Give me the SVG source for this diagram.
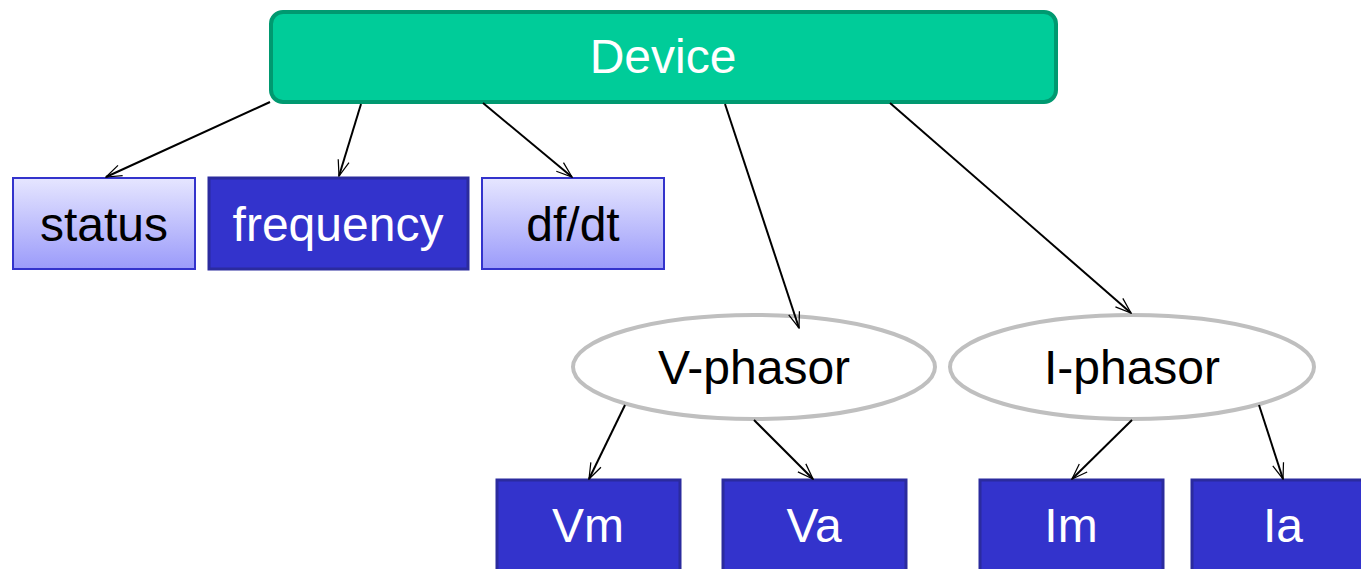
<svg xmlns="http://www.w3.org/2000/svg" width="1361" height="569" viewBox="0 0 1361 569">
<style>
text{font-family:"Liberation Sans",Arial,sans-serif;font-size:48px;text-anchor:middle}
.light{fill:url(#lg);stroke:#3333CC;stroke-width:2}
.dark{fill:#3333CC;stroke:#2B2B9E;stroke-width:3}
.ell{fill:#FFFFFF;stroke:#BFBFBF;stroke-width:4}
.w{fill:#FFFFFF}
.b{fill:#000000}
.c{stroke:#000;stroke-width:2;fill:none;marker-end:url(#ah)}
</style>
<defs>
<linearGradient id="lg" x1="0" y1="0" x2="0" y2="1">
<stop offset="0" stop-color="#E6E6FF"/>
<stop offset="1" stop-color="#9B9BFA"/>
</linearGradient>
<marker id="ah" viewBox="0 0 16 12" refX="15" refY="6" markerWidth="9" markerHeight="6.75" orient="auto" markerUnits="strokeWidth">
<path d="M1,1 L15,6 L1,11" fill="none" stroke="#000" stroke-width="1.1"/>
</marker>
</defs>
<rect width="1361" height="569" fill="#FFFFFF"/>
<g id="device">
<rect x="271" y="12" width="785" height="90" rx="12" fill="#00CC99" stroke="#009970" stroke-width="4"/>
<text x="663" y="73" class="w">Device</text>
</g>
<g id="status">
<rect x="13" y="178" width="182" height="91" class="light"/>
<text x="104" y="241" class="b">status</text>
</g>
<g id="frequency">
<rect x="209" y="178" width="259" height="91" class="dark"/>
<text x="338" y="241" class="w">frequency</text>
</g>
<g id="dfdt">
<rect x="482" y="178" width="182" height="91" class="light"/>
<text x="573" y="241" class="b">df/dt</text>
</g>
<g id="vphasor">
<ellipse cx="754" cy="367" rx="181" ry="52" class="ell"/>
<text x="754" y="384" class="b">V-phasor</text>
</g>
<g id="iphasor">
<ellipse cx="1132" cy="367" rx="182" ry="52" class="ell"/>
<text x="1132" y="384" class="b">I-phasor</text>
</g>
<g id="vm">
<rect x="497" y="480" width="183" height="95" class="dark"/>
<text x="588" y="542" class="w">Vm</text>
</g>
<g id="va">
<rect x="723" y="480" width="183" height="95" class="dark"/>
<text x="814" y="542" class="w">Va</text>
</g>
<g id="im">
<rect x="980" y="480" width="183" height="95" class="dark"/>
<text x="1071" y="542" class="w">Im</text>
</g>
<g id="ia">
<rect x="1192" y="480" width="183" height="95" class="dark"/>
<text x="1283" y="542" class="w">Ia</text>
</g>
<g id="connectors">
<line x1="270" y1="102" x2="106" y2="177" class="c"/>
<line x1="361" y1="104" x2="339" y2="176" class="c"/>
<line x1="483" y1="103" x2="572" y2="177" class="c"/>
<line x1="725" y1="104" x2="799" y2="328" class="c"/>
<line x1="890" y1="103" x2="1131" y2="313" class="c"/>
<line x1="625" y1="405" x2="589" y2="479" class="c"/>
<line x1="754" y1="420" x2="813" y2="479" class="c"/>
<line x1="1132" y1="420" x2="1072" y2="479" class="c"/>
<line x1="1259" y1="405" x2="1283" y2="479" class="c"/>
</g>
</svg>
